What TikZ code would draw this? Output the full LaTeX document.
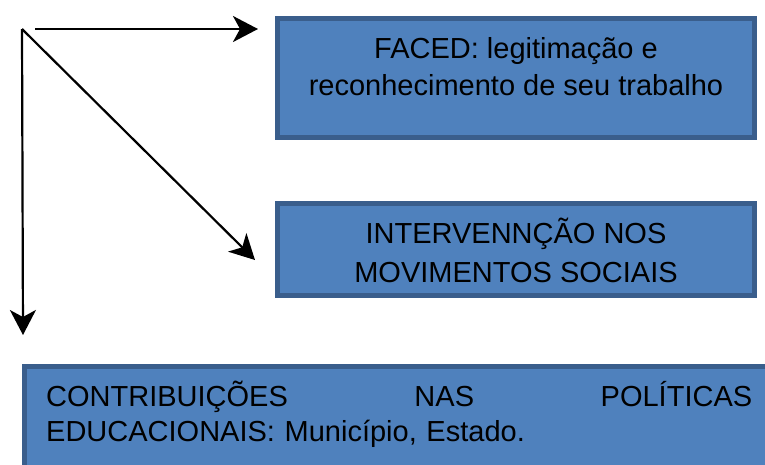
\documentclass[tikz,border=0pt]{standalone}
\usepackage{fontspec}
\setmainfont{Liberation Sans}
\usetikzlibrary{arrows.meta}
\definecolor{boxfill}{HTML}{4F81BD}
\definecolor{boxline}{HTML}{3A5E8C}

\begin{document}
\begin{tikzpicture}[x=1pt,y=-1pt,
    bluebox/.style={draw=boxline,fill=boxfill,line width=5pt,inner sep=0pt},
    boxtext/.style={inner sep=0pt,font=\fontsize{29}{37}\selectfont},
    arr/.style={line width=2.2pt,-{Stealth[length=25pt,width=26pt,inset=7pt]}}]
        \clip (0,0) rectangle (765,464); % page size
        % boxes
        \node[bluebox,minimum width=477pt,minimum height=119pt] (faced) at (516,78) {};
        \node[bluebox,minimum width=477pt,minimum height=92pt] (movim) at (516,249.5) {};
        \node[bluebox,minimum width=766pt,minimum height=124pt] (politicas) at (407,428) {};
        % texts (base = last line)
        \node[boxtext,align=center,anchor=base] (facedtxt) at (516,95) {FACED: legitimação e\\reconhecimento de seu trabalho};
        \node[boxtext,align=center,anchor=base,font=\fontsize{29}{39}\selectfont] (movimtxt) at (516,282) {INTERVENNÇÃO NOS\\MOVIMENTOS SOCIAIS};
        \node[boxtext,align=left,text width=706pt,anchor=base west,font=\fontsize{29}{35}\selectfont] (polittxt) at (46,406)
            {CONTRIBUIÇÕES \hfill NAS \hfill POLÍTICAS\\EDUCACIONAIS: Município, Estado.};
        % arrows
        \coordinate (src) at (22,29);
        \coordinate (hstart) at (35,29);
        \coordinate (hend) at (258,29);
        \coordinate (dend) at (255,260);
        \coordinate (vend) at (23,335);
        \draw[arr] (hstart) -- (hend); % to FACED
        \draw[arr] (src) -- (dend);    % to movimentos
        \draw[arr] (src) -- (vend);    % to politicas
    \end{tikzpicture}
\end{document}
